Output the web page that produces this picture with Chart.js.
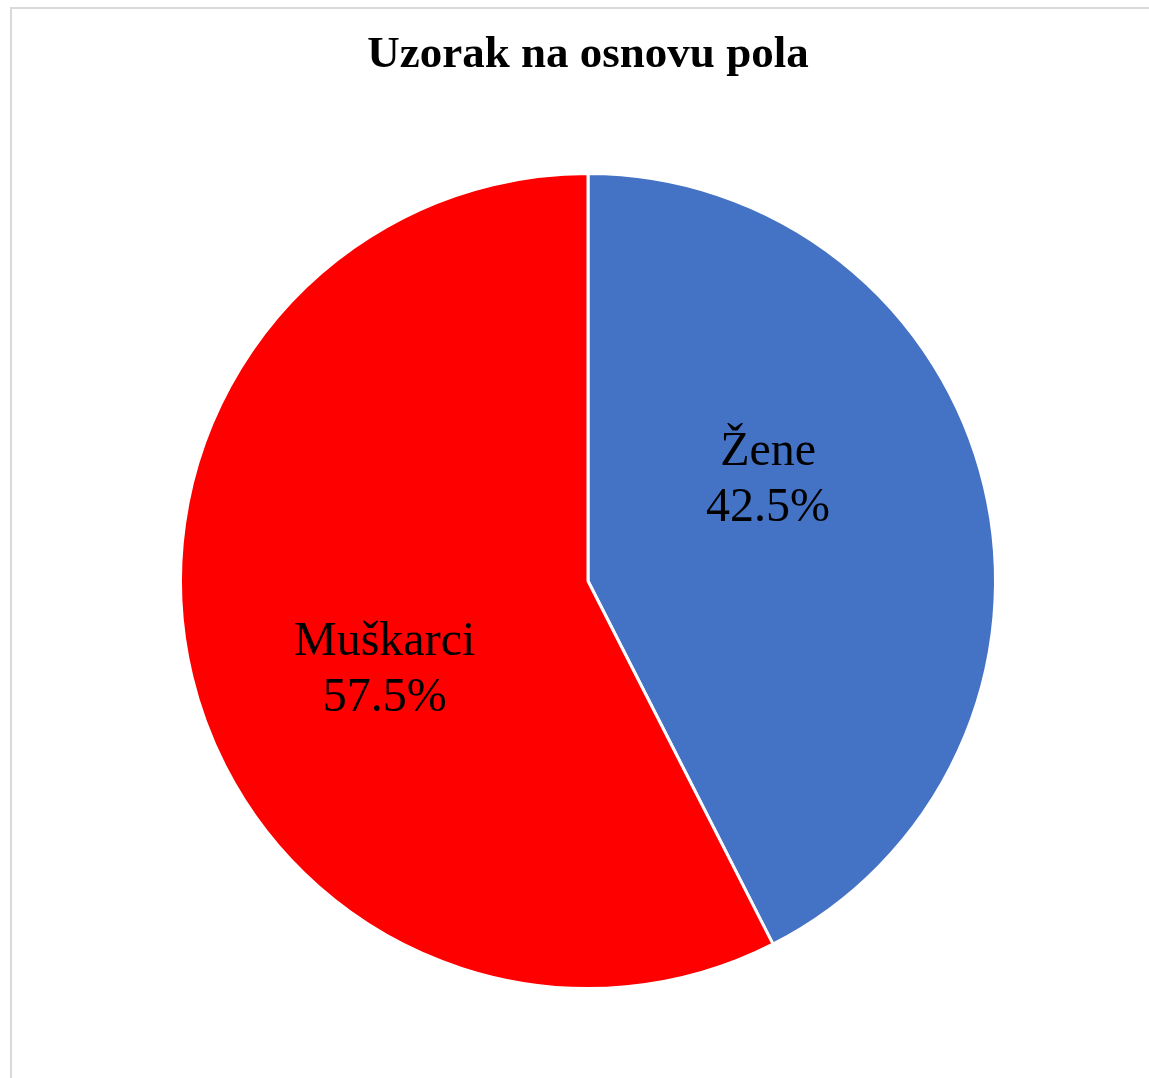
<!DOCTYPE html>
<html>
<head>
<meta charset="utf-8">
<script src="https://cdn.jsdelivr.net/npm/chart.js@4/dist/chart.umd.min.js"></script>
<style>
  html, body { margin: 0; padding: 0; background: #ffffff; width: 1149px; height: 1078px; overflow: hidden; }
  #frame { position: absolute; left: 10px; top: 7px; width: 1200px; height: 1200px; border-left: 2px solid #d9d9d9; border-top: 2px solid #d9d9d9; }
  #wrap { position: absolute; left: 0; top: 0; width: 1149px; height: 1078px; }
</style>
</head>
<body>
<div id="frame"></div>
<div id="wrap"><canvas id="c"></canvas></div>
<script>
const chartTitle = 'Uzorak na osnovu pola';
const categories = ['Žene', 'Muškarci'];
const values = [42.5, 57.5];
const colors = ['#4472C4', '#FF0000'];
// label anchor offsets relative to pie centre, as fraction of radius
const labelOffsetX = [0.442, -0.499];
const labelOffsetY = [-0.248, 0.219];

const labelPlugin = {
  id: 'sliceLabels',
  afterDatasetsDraw(chart) {
    const ctx = chart.ctx;
    const meta = chart.getDatasetMeta(0);
    const total = values.reduce((a, b) => a + b, 0);
    ctx.save();
    ctx.fillStyle = '#000000';
    ctx.font = '48px "Liberation Serif", serif';
    ctx.textAlign = 'center';
    ctx.textBaseline = 'middle';
    meta.data.forEach((arc, i) => {
      const p = arc.getProps(['x', 'y', 'outerRadius'], true);
      const cx = p.x + labelOffsetX[i] * p.outerRadius;
      const cy = p.y + labelOffsetY[i] * p.outerRadius;
      const pct = (values[i] / total * 100).toFixed(1) + '%';
      ctx.fillText(categories[i], cx, cy - 28);
      ctx.fillText(pct, cx, cy + 28);
    });
    ctx.restore();
  }
};

new Chart(document.getElementById('c'), {
  type: 'pie',
  data: {
    labels: categories,
    datasets: [{
      data: values,
      backgroundColor: colors,
      borderColor: '#ffffff',
      borderWidth: 3
    }]
  },
  options: {
    responsive: true,
    maintainAspectRatio: false,
    animation: false,
    layout: { padding: { top: 0, bottom: 88, left: 27, right: 0 } },
    plugins: {
      legend: { display: false },
      tooltip: { enabled: false },
      title: {
        display: true,
        text: chartTitle,
        color: '#000000',
        font: { family: '"Liberation Serif", serif', size: 45, weight: 'bold', lineHeight: 1.2 },
        padding: { top: 28, bottom: 90 }
      }
    }
  },
  plugins: [labelPlugin]
});
</script>
</body>
</html>
